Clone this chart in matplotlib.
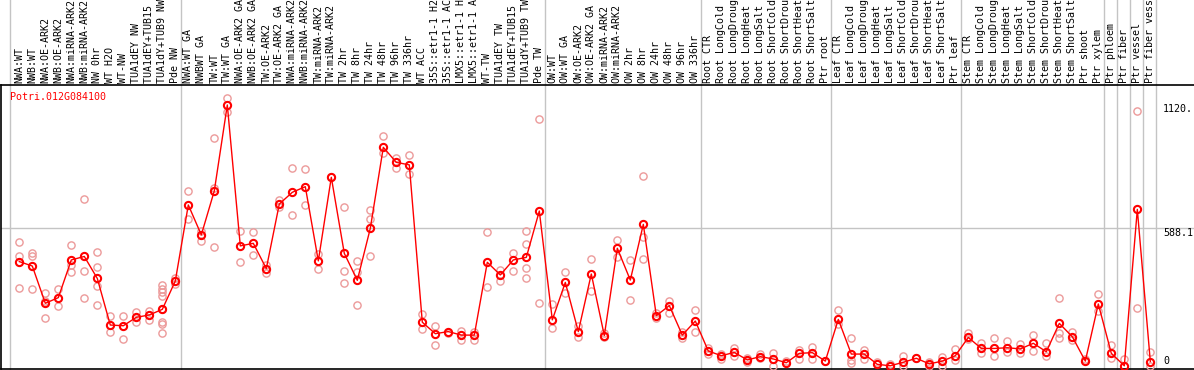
import numpy as np
import matplotlib
matplotlib.use("Agg")
import matplotlib.pyplot as plt
import matplotlib.transforms as mtransforms

plt.rcParams['font.family'] = ['DejaVu Sans Mono']

gene = "Potri.012G084100"

# sample names, in plot order
labels = [
    "NWA:WT", "NWB:WT", "NWA:OE-ARK2", "NWB:OE-ARK2", "NWA:miRNA-ARK2", "NWB:miRNA-ARK2",
    "NW 0hr", "WT H2O", "WT-NW", "TUA1dEY NW", "TUA1dEY+TUB15 NW", "TUA1dY+TUB9 NW", "Pde NW",
    "NWA:WT GA", "NWBWT GA", "TW:WT", "TW:WT GA", "NWA:OE-ARK2 GA", "NWB:OE-ARK2 GA",
    "TW:OE-ARK2", "TW:OE-ARK2 GA", "NWA:miRNA-ARK2 GA", "NWB:miRNA-ARK2 GA", "TW:miRNA-ARK2",
    "TW:miRNA-ARK2 GA", "TW 2hr", "TW 8hr", "TW 24hr", "TW 48hr", "TW 96hr", "TW 336hr",
    "WT ACC", "35S::etr1-1 H2O", "35S::etr1-1 ACC", "LMX5::etr1-1 H2O", "LMX5::etr1-1 ACC",
    "WT-TW", "TUA1dEY TW", "TUA1dEY+TUB15 TW", "TUA1dY+TUB9 TW", "Pde TW",
    "OW:WT", "OW:WT GA", "OW:OE-ARK2", "OW:OE-ARK2 GA", "OW:miRNA-ARK2", "OW:miRNA-ARK2 GA",
    "OW 2hr", "OW 8hr", "OW 24hr", "OW 48hr", "OW 96hr", "OW 336hr",
    "Root CTR", "Root LongCold", "Root LongDrought", "Root LongHeat", "Root LongSalt",
    "Root ShortCold", "Root ShortDrought", "Root ShortHeat", "Root ShortSalt", "Ptr root",
    "Leaf CTR", "Leaf LongCold", "Leaf LongDrought", "Leaf LongHeat", "Leaf LongSalt",
    "Leaf ShortCold", "Leaf ShortDrought", "Leaf ShortHeat", "Leaf ShortSalt", "Ptr leaf",
    "Stem CTR", "Stem LongCold", "Stem LongDrought", "Stem LongHeat", "Stem LongSalt",
    "Stem ShortCold", "Stem ShortDrought", "Stem ShortHeat", "Stem ShortSalt", "Ptr shoot",
    "Ptr xylem", "Ptr phloem", "Ptr fiber", "Ptr vessel", "Ptr fiber vessel",
]

# last sample index of each group
group_ends = [12, 40, 52, 62, 72, 83, 84, 85, 86, 87]

means = [
    446, 427, 268, 292, 453, 468, 374, 175, 172, 208, 218, 242, 363,
    688, 560, 748, 1115, 513, 524, 416, 692, 742, 766, 449, 806, 481, 366, 588,
    934, 870, 859, 187, 138, 147, 132, 132, 443, 389, 453, 464, 662,
    197, 357, 147, 393, 130, 503, 367, 605, 215, 258, 132, 192,
    64, 44, 58, 26, 40, 30, 14, 54, 57, 21,
    199, 51, 51, 7, 1, 16, 33, 9, 21, 44,
    122, 75, 75, 78, 73, 97, 61, 182, 125, 21, 265,
    54, 1, 669, 19,
]

reps = [
    [531, 471, 335], [481, 471, 329], [310, 278, 206], [329, 258], [517, 431, 400],
    [713, 406, 289], [488, 421, 342, 261], [215, 144], [215, 115], [232, 187], [235, 195],
    [346, 329, 315, 300, 243, 187, 178, 140], [374, 350],
    [749, 626], [578, 534], [972, 759, 507], [1143, 1086], [577, 446], [571, 474],
    [431, 396], [709, 681], [844, 645], [842, 688], [478, 414], [806], [678, 406, 353],
    [449, 400, 261], [666, 626, 468], [982, 908], [890, 847], [901, 819], [222, 157],
    [172, 90], [140], [151, 111], [111, 147], [571, 336], [410, 365], [484, 406],
    [577, 520, 420, 374], [1055, 268],
    [265, 161], [400, 310], [172, 122], [457, 322], [140, 122], [538, 467], [453, 282],
    [812, 552, 457], [225, 204], [278, 225], [147, 118], [239, 144],
    [75, 50], [30, 50], [75, 44], [36, 19], [50, 33], [57, 0], [21], [68, 30], [83, 30], [21],
    [239, 178], [118, 26, 11], [68, 30], [19], [7], [43, 0], [33], [19, 0], [40, 0], [71, 26],
    [142, 115], [97, 54], [118, 44], [107, 61], [93, 54], [132, 64], [97, 44],
    [289, 140, 121], [147, 111], [28], [306, 235],
    [90, 36], [28], [1089, 249], [58, 0],
]

y_marks = [1120, 588.1, 0]
y_texts = ["1120.", "588.1", "0"]

W, H = 1194, 370
fig = plt.figure(figsize=(W / 100, H / 100), dpi=100)
top_px, bot_px, left_px = 85, 369, 1
ax = fig.add_axes([left_px / W, (H - bot_px) / H, 1 - left_px / W, (bot_px - top_px) / H])

x = np.arange(len(labels))
ax.set_xlim(-1.408, 90.36)
ax.set_ylim(-12.8, 1200.3)

# replicate points
rx = [i for i, r in enumerate(reps) for _ in r]
ry = [v for r in reps for v in r]
ax.plot(rx, ry, 'o', ms=5.2, mfc='none', mec='#ec9a9a', mew=1.0, zorder=3)

# means
ax.plot(x, means, '-', color='red', lw=1.0, zorder=4)
ax.plot(x, means, 'o', ms=5.2, mfc='none', mec='red', mew=1.5, zorder=5)

# grid
ax.axhline(588.1, color='#c4c4c4', lw=1.0, zorder=1)
hdr = 1 + (top_px + 2) / (bot_px - top_px)
ax.axvline(-0.69, ymin=0, ymax=hdr, color='#c4c4c4', lw=1.0, clip_on=False, zorder=1)
for e in group_ends:
    ax.axvline(e + 0.4, ymin=0, ymax=hdr, color='#c4c4c4', lw=1.0, clip_on=False, zorder=1)

ax.spines['right'].set_visible(False)
for s in ['top', 'bottom', 'left']:
    ax.spines[s].set_color('black')
    ax.spines[s].set_linewidth(1.2)
ax.set_xticks([])
ax.set_yticks([])

# sample labels above the plot
trans = mtransforms.blended_transform_factory(ax.transData, ax.transAxes)
for i, lab in enumerate(labels):
    ax.text(i, 1 + 2 / (bot_px - top_px), lab, rotation=90, ha='center', va='bottom',
            fontsize=7.2, transform=trans, clip_on=False)

# y value labels
ytrans = mtransforms.blended_transform_factory(ax.transAxes, ax.transData)
for v, t in zip(y_marks, y_texts):
    ax.text((1163 - left_px) / (W - left_px), v, t, ha='left',
            va='bottom' if v == 0 else 'top', fontsize=7.2, transform=ytrans)

ax.text((10 - left_px) / (W - left_px), 0.975, gene, color='red', fontsize=7.2,
        ha='left', va='top', transform=ax.transAxes)

fig.savefig('out.png', dpi=100)
